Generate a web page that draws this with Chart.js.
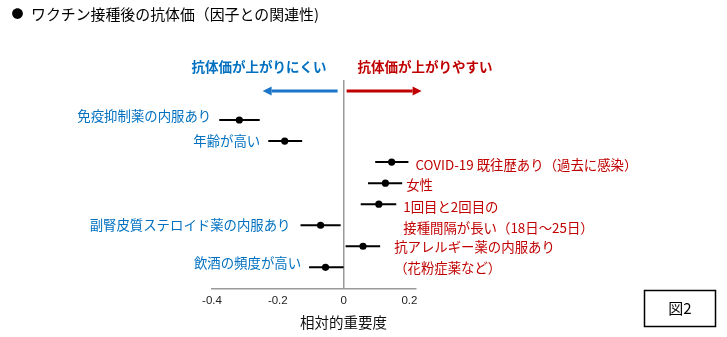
<!DOCTYPE html>
<html lang="ja">
<head>
<meta charset="utf-8">
<title>ワクチン接種後の抗体価（因子との関連性)</title>
<script src="https://cdn.jsdelivr.net/npm/chart.js@4/dist/chart.umd.min.js"></script>
<style>
  html, body { margin: 0; padding: 0; background: #ffffff; }
  #wrap { width: 727px; height: 337px; position: relative; }
</style>
</head>
<body>
<div id="wrap"><canvas id="chart" width="727" height="337"></canvas></div>
<script>
// Factors associated with antibody titre after vaccination (relative importance, with interval)
const factors = [
  '免疫抑制薬の内服あり',
  '年齢が高い',
  'COVID-19 既往歴あり',
  '女性',
  '1回目と2回目の接種間隔が長い',
  '副腎皮質ステロイド薬の内服あり',
  '抗アレルギー薬の内服あり',
  '飲酒の頻度が高い'
];
const estimates = [-0.317, -0.179, 0.146, 0.127, 0.107, -0.070, 0.059, -0.055];
const lowerCI   = [-0.378, -0.229, 0.096, 0.074, 0.052, -0.131, 0.006, -0.105];
const upperCI   = [-0.255, -0.126, 0.197, 0.178, 0.160, -0.009, 0.111, 0.000];

// Text shown next to each row (may wrap onto two lines)
const labelLines = [
  ['免疫抑制薬の内服あり'],
  ['年齢が高い'],
  ['COVID-19 既往歴あり（過去に感染）'],
  ['女性'],
  ['1回目と2回目の', '接種間隔が長い（18日～25日）'],
  ['副腎皮質ステロイド薬の内服あり'],
  ['抗アレルギー薬の内服あり', '（花粉症薬など）'],
  ['飲酒の頻度が高い']
];

const tickValues = [-0.4, -0.2, 0, 0.2];
const axisTitle = '相対的重要度';
const chartTitle = 'ワクチン接種後の抗体価（因子との関連性)';
const lowSideText = '抗体価が上がりにくい';
const highSideText = '抗体価が上がりやすい';
const figureTag = '図2';

// Layout for the row labels: gap from the interval end, and vertical nudge (px)
const labelGap = [8, 8, 7, 4, 7, 10, 14, 8];
const labelDy  = [-4, 0, 3, 2, 3, 0, 1, -4];
const labelLineHeight = 20.4;

const BLUE = '#0070C0';
const RED = '#C00000';
const AXIS_GRAY = '#9a9a9a';
const JP_FONT = '"Noto Sans CJK JP", "Noto Sans", sans-serif';

const points = estimates.map((v, i) => ({ x: v, y: i }));

const intervalPlugin = {
  id: 'intervals',
  beforeDatasetsDraw(chart) {
    const { ctx, scales: { x, y } } = chart;
    ctx.save();
    ctx.strokeStyle = '#000000';
    ctx.lineWidth = 2;
    lowerCI.forEach((lo, i) => {
      const py = y.getPixelForValue(i);
      ctx.beginPath();
      ctx.moveTo(x.getPixelForValue(lo), py);
      ctx.lineTo(x.getPixelForValue(upperCI[i]), py);
      ctx.stroke();
    });
    ctx.restore();
  }
};

function arrow(ctx, x0, x1, y, color) {
  const dir = Math.sign(x1 - x0);
  const head = 9;
  ctx.strokeStyle = color;
  ctx.fillStyle = color;
  ctx.lineWidth = 3;
  ctx.beginPath();
  ctx.moveTo(x0, y);
  ctx.lineTo(x1 - dir * head, y);
  ctx.stroke();
  ctx.beginPath();
  ctx.moveTo(x1, y);
  ctx.lineTo(x1 - dir * head, y - 4.5);
  ctx.lineTo(x1 - dir * head, y + 4.5);
  ctx.closePath();
  ctx.fill();
}

const annotationPlugin = {
  id: 'annotations',
  afterDraw(chart) {
    const { ctx, scales: { x, y } } = chart;
    const zero = x.getPixelForValue(0);
    ctx.save();

    // Heading
    ctx.fillStyle = '#000000';
    ctx.textBaseline = 'middle';
    ctx.textAlign = 'center';
    ctx.font = '12px ' + JP_FONT;
    ctx.fillText('●', 17.5, 14);
    ctx.textAlign = 'left';
    ctx.font = '14.9px ' + JP_FONT;
    ctx.fillText(chartTitle, 31, 14);

    // Direction headers and arrows
    ctx.font = 'bold 13.5px ' + JP_FONT;
    ctx.fillStyle = BLUE;
    ctx.textAlign = 'right';
    ctx.fillText(lowSideText, zero - 17, 67);
    ctx.fillStyle = RED;
    ctx.textAlign = 'left';
    ctx.fillText(highSideText, zero + 14, 67);
    arrow(ctx, zero - 6, zero - 81, 91, '#1B75C8');
    arrow(ctx, zero + 3, zero + 78, 91, RED);

    // Row labels
    ctx.font = '13.4px ' + JP_FONT;
    labelLines.forEach((lines, i) => {
      const negative = estimates[i] < 0;
      const py = y.getPixelForValue(i) + labelDy[i];
      ctx.fillStyle = negative ? BLUE : RED;
      ctx.textAlign = negative ? 'right' : 'left';
      const px = negative
        ? x.getPixelForValue(lowerCI[i]) - labelGap[i]
        : x.getPixelForValue(upperCI[i]) + labelGap[i];
      lines.forEach((t, k) => ctx.fillText(t, px, py + k * labelLineHeight));
    });

    // Axis title
    ctx.fillStyle = '#111111';
    ctx.textAlign = 'center';
    ctx.font = '14.5px ' + JP_FONT;
    ctx.fillText(axisTitle, zero, 322);

    // Figure tag box
    ctx.strokeStyle = '#000000';
    ctx.lineWidth = 1.5;
    ctx.strokeRect(644.5, 290.5, 71, 36);
    ctx.fillStyle = '#000000';
    ctx.font = '15px ' + JP_FONT;
    ctx.fillText(figureTag, 680, 308.5);

    ctx.restore();
  }
};

new Chart(document.getElementById('chart'), {
  type: 'scatter',
  data: {
    datasets: [{
      label: 'relative importance',
      data: points,
      pointRadius: 3.6,
      pointHoverRadius: 3.6,
      pointBackgroundColor: '#000000',
      pointBorderColor: '#000000',
      pointBorderWidth: 0
    }]
  },
  options: {
    responsive: false,
    animation: false,
    devicePixelRatio: 1,
    layout: { padding: { left: 212, right: 311, top: 80, bottom: 0 } },
    plugins: {
      legend: { display: false },
      tooltip: { enabled: false }
    },
    scales: {
      x: {
        type: 'linear',
        min: -0.4,
        max: 0.22,
        afterBuildTicks(scale) {
          scale.ticks = tickValues.map(v => ({ value: v }));
        },
        afterFit(scale) { scale.height = 48; },
        grid: {
          drawTicks: false,
          lineWidth: 1.5,
          color: ctx => (ctx.tick && ctx.tick.value === 0 ? AXIS_GRAY : 'rgba(0,0,0,0)')
        },
        border: { display: true, color: AXIS_GRAY, width: 1.5 },
        ticks: {
          padding: 5,
          color: '#222222',
          font: { family: '"Liberation Sans", Arial, sans-serif', size: 11.5 },
          callback: v => (v === 0 ? '0' : String(Math.round(v * 10) / 10))
        }
      },
      y: {
        type: 'linear',
        min: -1.9,
        max: 8.03,
        reverse: true,
        display: false
      }
    }
  },
  plugins: [intervalPlugin, annotationPlugin]
});
</script>
</body>
</html>
